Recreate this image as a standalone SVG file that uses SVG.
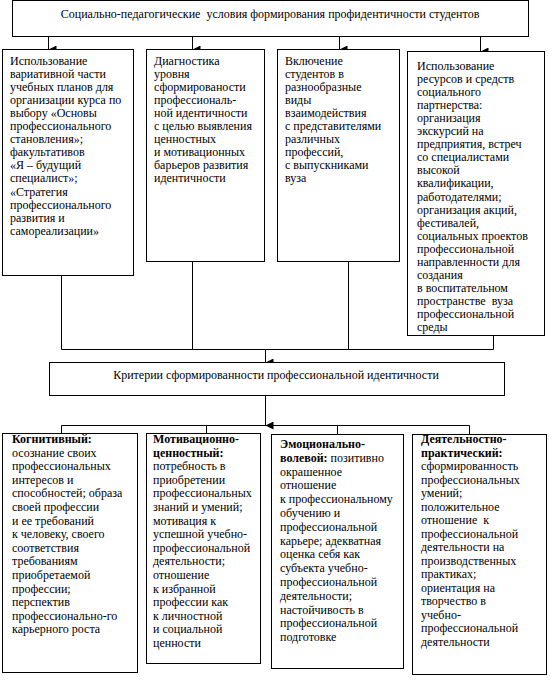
<svg xmlns="http://www.w3.org/2000/svg" width="553" height="682" viewBox="0 0 553 682">
<style>
.box{fill:#fff;stroke:#000;stroke-width:1}
.ln{fill:none;stroke:#000;stroke-width:1}
text{font-family:"Liberation Serif","DejaVu Serif",serif;font-size:12px;fill:#000;white-space:pre}
.c{text-anchor:middle}
.b{font-weight:bold}
</style>
<defs>
<marker id="ah" markerUnits="userSpaceOnUse" markerWidth="8" markerHeight="8" refX="3.5" refY="7" orient="auto-start-reverse" viewBox="0 0 7 7">
<path d="M0,0 L7,0 L3.5,7 Z" fill="#000"/>
</marker>
</defs>
<g id="connectors">
<line class="ln" x1="48.5" y1="36.5" x2="48.5" y2="49.5" marker-end="url(#ah)"/>
<line class="ln" x1="192.5" y1="36.5" x2="192.5" y2="49.5" marker-end="url(#ah)"/>
<line class="ln" x1="339.5" y1="36.5" x2="339.5" y2="49.5" marker-end="url(#ah)"/>
<line class="ln" x1="480.5" y1="36.5" x2="480.5" y2="51.5" marker-end="url(#ah)"/>
<path class="ln" d="M61.5,275.5 V349.5 M192.5,261.5 V349.5 M348.5,261.5 V349.5 M493.5,335.5 V349.5 M61.5,349.5 H493.5"/>
<line class="ln" x1="265.5" y1="349.5" x2="265.5" y2="362.5" marker-end="url(#ah)"/>
<line class="ln" x1="265.5" y1="395.5" x2="265.5" y2="425.5" marker-end="url(#ah)"/>
<path class="ln" d="M61.5,425.5 H469.5 M61.5,425.5 V433.5 M206.5,425.5 V433.5 M337.5,425.5 V434.5 M469.5,425.5 V434.5"/>
</g>
<g id="top">
<rect class="box" x="12.5" y="0.5" width="516" height="36"/>
<text class="c" x="270" y="18">Социально-педагогические  условия формирования профидентичности студентов</text>
</g>
<g id="u1">
<rect class="box" x="2.5" y="49.5" width="131" height="226"/>
<text x="10" y="65"><tspan x="10">Использование</tspan><tspan x="10" dy="13.05">вариативной части</tspan><tspan x="10" dy="13.05">учебных планов для</tspan><tspan x="10" dy="13.05">организации курса по</tspan><tspan x="10" dy="13.05">выбору «Основы</tspan><tspan x="10" dy="13.05">профессионального</tspan><tspan x="10" dy="13.05">становления»;</tspan><tspan x="10" dy="13.05">факультативов</tspan><tspan x="10" dy="13.05">«Я – будущий</tspan><tspan x="10" dy="13.05">специалист»;</tspan><tspan x="10" dy="13.05">«Стратегия</tspan><tspan x="10" dy="13.05">профессионального</tspan><tspan x="10" dy="13.05">развития и</tspan><tspan x="10" dy="13.05">самореализации»</tspan></text>
</g>
<g id="u2">
<rect class="box" x="146.5" y="49.5" width="118" height="212"/>
<text x="154" y="65"><tspan x="154">Диагностика</tspan><tspan x="154" dy="13.05">уровня</tspan><tspan x="154" dy="13.05">сформированости</tspan><tspan x="154" dy="13.05">профессиональ-</tspan><tspan x="154" dy="13.05">ной идентичности</tspan><tspan x="154" dy="13.05">с целью выявления</tspan><tspan x="154" dy="13.05">ценностных</tspan><tspan x="154" dy="13.05">и мотивационных</tspan><tspan x="154" dy="13.05">барьеров развития</tspan><tspan x="154" dy="13.05">идентичности</tspan></text>
</g>
<g id="u3">
<rect class="box" x="277.5" y="49.5" width="122" height="212"/>
<text x="285" y="65"><tspan x="285">Включение</tspan><tspan x="285" dy="13.05">студентов в</tspan><tspan x="285" dy="13.05">разнообразные</tspan><tspan x="285" dy="13.05">виды</tspan><tspan x="285" dy="13.05">взаимодействия</tspan><tspan x="285" dy="13.05">с представителями</tspan><tspan x="285" dy="13.05">различных</tspan><tspan x="285" dy="13.05">профессий,</tspan><tspan x="285" dy="13.05">с выпускниками</tspan><tspan x="285" dy="13.05">вуза</tspan></text>
</g>
<g id="u4">
<rect class="box" x="407.5" y="51.5" width="137" height="284"/>
<text x="417" y="70"><tspan x="417">Использование</tspan><tspan x="417" dy="13.05">ресурсов и средств</tspan><tspan x="417" dy="13.05">социального</tspan><tspan x="417" dy="13.05">партнерства:</tspan><tspan x="417" dy="13.05">организация</tspan><tspan x="417" dy="13.05">экскурсий на</tspan><tspan x="417" dy="13.05">предприятия, встреч</tspan><tspan x="417" dy="13.05">со специалистами</tspan><tspan x="417" dy="13.05">высокой</tspan><tspan x="417" dy="13.05">квалификации,</tspan><tspan x="417" dy="13.05">работодателями;</tspan><tspan x="417" dy="13.05">организация акций,</tspan><tspan x="417" dy="13.05">фестивалей,</tspan><tspan x="417" dy="13.05">социальных проектов</tspan><tspan x="417" dy="13.05">профессиональной</tspan><tspan x="417" dy="13.05">направленности для</tspan><tspan x="417" dy="13.05">создания</tspan><tspan x="417" dy="13.05">в воспитательном</tspan><tspan x="417" dy="13.05">пространстве  вуза</tspan><tspan x="417" dy="13.05">профессиональной</tspan><tspan x="417" dy="13.05">среды</tspan></text>
</g>
<g id="mid">
<rect class="box" x="49.5" y="362.5" width="455" height="33"/>
<text class="c" x="276" y="379">Критерии сформированности профессиональной идентичности</text>
</g>
<g id="l1">
<rect class="box" x="2.5" y="433.5" width="135" height="239"/>
<text x="12" y="443"><tspan x="12" class="b">Когнитивный:</tspan><tspan x="12" dy="13.6">осознание своих</tspan><tspan x="12" dy="13.6">профессиональных</tspan><tspan x="12" dy="13.6">интересов и</tspan><tspan x="12" dy="13.6">способностей; образа</tspan><tspan x="12" dy="13.6">своей профессии</tspan><tspan x="12" dy="13.6">и ее требований</tspan><tspan x="12" dy="13.6">к человеку, своего</tspan><tspan x="12" dy="13.6">соответствия</tspan><tspan x="12" dy="13.6">требованиям</tspan><tspan x="12" dy="13.6">приобретаемой</tspan><tspan x="12" dy="13.6">профессии;</tspan><tspan x="12" dy="13.6">перспектив</tspan><tspan x="12" dy="13.6">профессионально-го</tspan><tspan x="12" dy="13.6">карьерного роста</tspan></text>
</g>
<g id="l2">
<rect class="box" x="146.5" y="433.5" width="114" height="230"/>
<text x="153" y="443"><tspan x="153" class="b">Мотивационно-</tspan><tspan x="153" dy="13.6" class="b">ценностный:</tspan><tspan x="153" dy="13.6">потребность в</tspan><tspan x="153" dy="13.6">приобретении</tspan><tspan x="153" dy="13.6">профессиональных</tspan><tspan x="153" dy="13.6">знаний и умений;</tspan><tspan x="153" dy="13.6">мотивация к</tspan><tspan x="153" dy="13.6">успешной учебно-</tspan><tspan x="153" dy="13.6">профессиональной</tspan><tspan x="153" dy="13.6">деятельности;</tspan><tspan x="153" dy="13.6">отношение</tspan><tspan x="153" dy="13.6">к избранной</tspan><tspan x="153" dy="13.6">профессии как</tspan><tspan x="153" dy="13.6">к личностной</tspan><tspan x="153" dy="13.6">и социальной</tspan><tspan x="153" dy="13.6">ценности</tspan></text>
</g>
<g id="l3">
<rect class="box" x="271.5" y="434.5" width="132" height="234"/>
<text x="280" y="448"><tspan x="280" class="b">Эмоционально-</tspan><tspan x="280" dy="13.8" class="b">волевой:</tspan><tspan> позитивно</tspan><tspan x="280" dy="13.8">окрашенное</tspan><tspan x="280" dy="13.8">отношение</tspan><tspan x="280" dy="13.8">к профессиональному</tspan><tspan x="280" dy="13.8">обучению и</tspan><tspan x="280" dy="13.8">профессиональной</tspan><tspan x="280" dy="13.8">карьере; адекватная</tspan><tspan x="280" dy="13.8">оценка себя как</tspan><tspan x="280" dy="13.8">субъекта учебно-</tspan><tspan x="280" dy="13.8">профессиональной</tspan><tspan x="280" dy="13.8">деятельности;</tspan><tspan x="280" dy="13.8">настойчивость в</tspan><tspan x="280" dy="13.8">профессиональной</tspan><tspan x="280" dy="13.8">подготовке</tspan></text>
</g>
<g id="l4">
<rect class="box" x="412.5" y="434.5" width="134" height="240"/>
<text x="421" y="443"><tspan x="421" class="b">Деятельностно-</tspan><tspan x="421" dy="13.5" class="b">практический:</tspan><tspan x="421" dy="13.5">сформированность</tspan><tspan x="421" dy="13.5">профессиональных</tspan><tspan x="421" dy="13.5">умений;</tspan><tspan x="421" dy="13.5">положительное</tspan><tspan x="421" dy="13.5">отношение  к</tspan><tspan x="421" dy="13.5">профессиональной</tspan><tspan x="421" dy="13.5">деятельности на</tspan><tspan x="421" dy="13.5">производственных</tspan><tspan x="421" dy="13.5">практиках;</tspan><tspan x="421" dy="13.5">ориентация на</tspan><tspan x="421" dy="13.5">творчество в</tspan><tspan x="421" dy="13.5">учебно-</tspan><tspan x="421" dy="13.5">профессиональной</tspan><tspan x="421" dy="13.5">деятельности</tspan></text>
</g>
</svg>
